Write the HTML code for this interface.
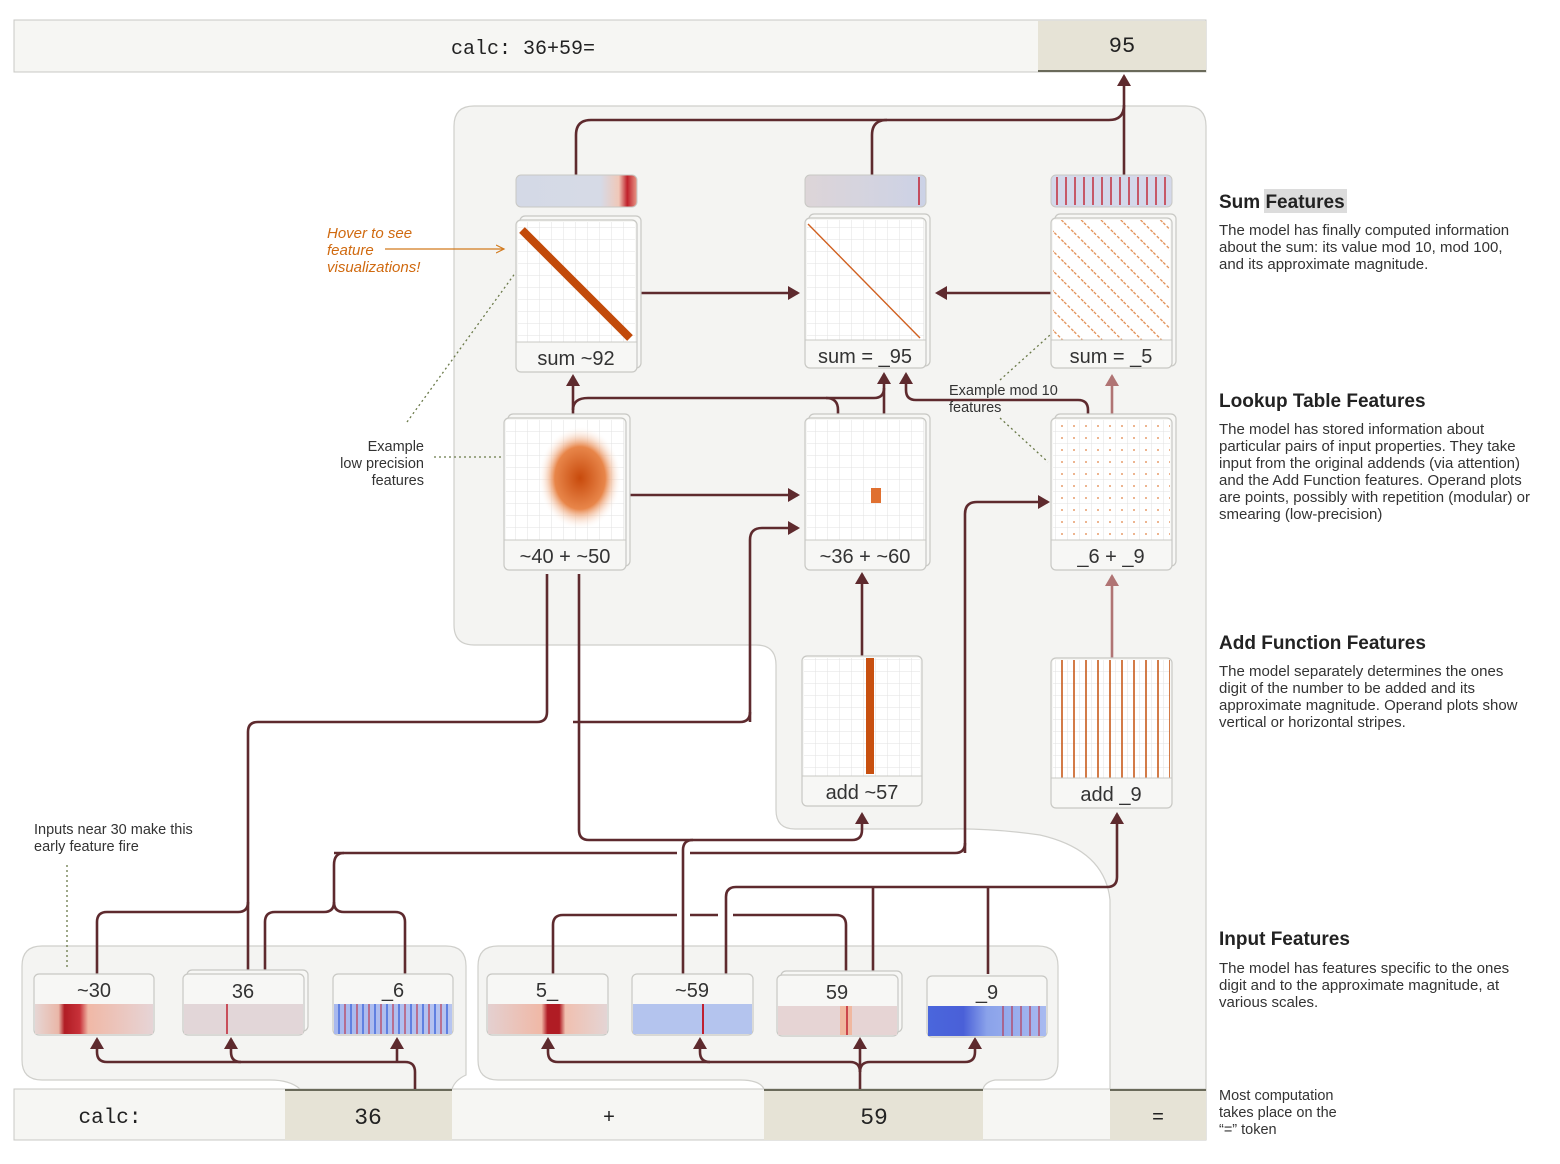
<!DOCTYPE html>
<html><head><meta charset="utf-8"><style>
body{margin:0;background:#fff;}
svg{display:block;font-family:"Liberation Sans",sans-serif;}
.m{font-family:"Liberation Mono",monospace;}
.c{fill:none;stroke:#5e2a2e;stroke-width:2.6;}
.p{fill:none;stroke:#b07474;stroke-width:2.6;}
.d{fill:none;stroke:#6b7a4a;stroke-width:1.3;stroke-dasharray:2 3;}
.card{fill:#f7f7f5;stroke:#c8c8c4;stroke-width:1.2;}
.lbl{font-size:20px;fill:#333;text-anchor:middle;}
.h{font-size:19px;font-weight:bold;fill:#222;}
.t{font-size:14.5px;fill:#333;}
.r{font-size:15px;fill:#333;}
</style></head><body>
<svg width="1560" height="1164" viewBox="0 0 1560 1164">
<defs>
<marker id="A" markerWidth="14" markerHeight="14" refX="10" refY="7" orient="auto" markerUnits="userSpaceOnUse"><path d="M0,0 L12,7 L0,14z" fill="#5e2a2e"/></marker>
<marker id="P" markerWidth="14" markerHeight="14" refX="10" refY="7" orient="auto" markerUnits="userSpaceOnUse"><path d="M0,0 L12,7 L0,14z" fill="#b07474"/></marker>
<marker id="O" markerWidth="10" markerHeight="10" refX="8" refY="5" orient="auto" markerUnits="userSpaceOnUse"><path d="M0,1 L8,5 L0,9" fill="none" stroke="#d27a1e" stroke-width="1.2"/></marker>
<pattern id="g" width="12" height="12" patternUnits="userSpaceOnUse"><rect width="12" height="12" fill="#fff"/><path d="M12,0V12M0,12H12" stroke="#e2e2e2" stroke-width="1"/></pattern>
<linearGradient id="b1" x1="0" x2="1"><stop offset="0" stop-color="#d4d9e6"/><stop offset=".7" stop-color="#d6dae6"/><stop offset=".85" stop-color="#f0c8b8"/><stop offset=".92" stop-color="#c0202a"/><stop offset="1" stop-color="#e89a8a"/></linearGradient>
<linearGradient id="b2" x1="0" x2="1"><stop offset="0" stop-color="#ddd5d8"/><stop offset="1" stop-color="#ccd2e6"/></linearGradient>
<linearGradient id="i1" x1="0" x2="1"><stop offset="0" stop-color="#e6d6d4"/><stop offset=".2" stop-color="#eab7a8"/><stop offset=".25" stop-color="#b01c24"/><stop offset=".38" stop-color="#c8323a"/><stop offset=".45" stop-color="#f0b8a6"/><stop offset="1" stop-color="#e6d4d6"/></linearGradient>
<linearGradient id="i4" x1="0" x2="1"><stop offset="0" stop-color="#e4d0d0"/><stop offset=".45" stop-color="#f0b8a6"/><stop offset=".5" stop-color="#b01c24"/><stop offset=".6" stop-color="#b01c24"/><stop offset=".65" stop-color="#f0c0b0"/><stop offset="1" stop-color="#e4d4d4"/></linearGradient>
<linearGradient id="i3" x1="0" x2="1"><stop offset="0" stop-color="#a8b8ee"/><stop offset="1" stop-color="#b6c4f0"/></linearGradient>
<linearGradient id="i7" x1="0" x2="1"><stop offset="0" stop-color="#4a66dc"/><stop offset=".3" stop-color="#4a60d8"/><stop offset=".5" stop-color="#8aa2ea"/><stop offset="1" stop-color="#a8baf0"/></linearGradient>
<radialGradient id="blob"><stop offset="0" stop-color="#c84a0c"/><stop offset=".6" stop-color="#e8864a"/><stop offset="1" stop-color="#fff" stop-opacity="0"/></radialGradient>
<pattern id="diag" width="14" height="14" patternUnits="userSpaceOnUse" patternTransform="rotate(45)"><rect width="14" height="14" fill="none"/><path d="M0,7H14" stroke="#e0884a" stroke-width="1.2" stroke-dasharray="3 2"/></pattern>
<pattern id="dots" width="12" height="12" patternUnits="userSpaceOnUse"><circle cx="6" cy="6" r="0.9" fill="#e08040"/></pattern>
<pattern id="vl" width="12" height="200" patternUnits="userSpaceOnUse"><path d="M6,0V200" stroke="#c85a1a" stroke-width="1.6"/></pattern>
<pattern id="st" width="9" height="30" patternUnits="userSpaceOnUse"><path d="M4,0V30" stroke="#c02030" stroke-width="1.4"/></pattern>
<pattern id="stb" width="12" height="30" patternUnits="userSpaceOnUse"><path d="M3,0V30" stroke="#6080e0" stroke-width="2"/><path d="M9,0V30" stroke="#c02030" stroke-width="1"/></pattern>
</defs>

<rect x="14" y="20" width="1192" height="52" fill="#f6f6f3" stroke="#c8c8c4"/>
<rect x="1038" y="21" width="168" height="50" fill="#e6e3d6"/>
<line x1="1038" y1="71" x2="1206" y2="71" stroke="#6a6a5a" stroke-width="2"/>
<text x="523" y="54" class="m" font-size="20" text-anchor="middle" fill="#222">calc: 36+59=</text>
<text x="1122" y="52" class="m" font-size="22" text-anchor="middle" fill="#222">95</text>

<path d="M474,106 H1186 Q1206,106 1206,126 V1090 H1110 V900 Q1105,850 1040,835 Q990,828 950,829 H795 Q776,829 776,810 V665 Q776,645 756,645 H474 Q454,645 454,625 V126 Q454,106 474,106Z" fill="#f4f4f2" stroke="#cfcfcb" stroke-width="1.2"/>

<path d="M42,946 H446 Q466,946 466,966 V1075 Q455,1080 452,1089 H300 Q290,1080 270,1080 H42 Q22,1080 22,1060 V966 Q22,946 42,946Z" fill="#f4f4f2" stroke="#cfcfcb" stroke-width="1.2"/>
<path d="M498,946 H1038 Q1058,946 1058,966 V1062 Q1058,1080 1040,1080 H995 Q985,1082 983,1089 H764 Q760,1080 740,1080 H498 Q478,1080 478,1060 V966 Q478,946 498,946Z" fill="#f4f4f2" stroke="#cfcfcb" stroke-width="1.2"/>

<rect x="14" y="1089" width="1192" height="51" fill="#f6f6f3" stroke="#c8c8c4"/>
<rect x="285" y="1090" width="167" height="50" fill="#e6e3d6"/>
<rect x="764" y="1090" width="219" height="50" fill="#e6e3d6"/>
<rect x="1110" y="1090" width="96" height="50" fill="#e6e3d6"/>
<path d="M285,1090H452M764,1090H983M1110,1090H1206" stroke="#6a6a5a" stroke-width="2"/>
<text x="110" y="1123" class="m" font-size="21" text-anchor="middle" fill="#222">calc:</text>
<text x="368" y="1124" class="m" font-size="23" text-anchor="middle" fill="#222">36</text>
<text x="609" y="1123" class="m" font-size="20" text-anchor="middle" fill="#222">+</text>
<text x="874" y="1124" class="m" font-size="23" text-anchor="middle" fill="#222">59</text>
<text x="1158" y="1123" class="m" font-size="20" text-anchor="middle" fill="#222">=</text>

<g class="c">
<path d="M576,175 V135 Q576,120 591,120 H1109 Q1124,120 1124,105"/>
<path d="M872,175 V135 Q872,120 887,120"/>
<path d="M1124,175 V76" marker-end="url(#A)"/>
<path d="M641,293 H798" marker-end="url(#A)"/>
<path d="M1051,293 H937" marker-end="url(#A)"/>
<path d="M573,418 V376" marker-end="url(#A)"/>
<path d="M573,410 Q573,398 588,398 H874 Q884,398 884,388"/>
<path d="M826,398 Q838,398 838,410 V418"/>
<path d="M884,418 V374" marker-end="url(#A)"/>
<path d="M1088,418 V410 Q1088,400 1078,400 H916 Q906,400 906,390 V374" marker-end="url(#A)"/>
<path d="M630,495 H798" marker-end="url(#A)"/>
<path d="M750,722 V540 Q750,528 762,528 H798" marker-end="url(#A)"/>
<path d="M965,853 V514 Q965,502 977,502 H1048" marker-end="url(#A)"/>
<path d="M862,656 V574" marker-end="url(#A)"/>
<path d="M547,574 V712 Q547,722 537,722 H258 Q248,722 248,732 V974"/>
<path d="M579,574 V830 Q579,840 589,840 H852 Q862,840 862,830 V814" marker-end="url(#A)"/>
<path d="M573,722 H740 Q750,722 750,712"/>
<path d="M248,902 Q248,912 238,912 H107 Q97,912 97,922 V974"/>
<path d="M334,853 H677 M690,853 H955 Q965,853 965,843"/>
<path d="M344,853 Q334,853 334,865 V902 Q334,912 324,912 H275 Q265,912 265,922 V974"/>
<path d="M334,902 Q334,912 344,912 H395 Q405,912 405,922 V974"/>
<path d="M683,974 V850 Q683,840 693,840"/>
<path d="M726,974 V897 Q726,887 736,887 H1107 Q1117,887 1117,877 V814" marker-end="url(#A)"/>
<path d="M873,974 V887 M988,974 V887"/>
<path d="M553,974 V925 Q553,915 563,915 H677 M690,915 H718 M733,915 H836 Q846,915 846,925 V974"/>
<path d="M415,1089 V1072 Q415,1062 405,1062 H107 Q97,1062 97,1052 V1039" marker-end="url(#A)"/>
<path d="M241,1062 Q231,1062 231,1052 V1039" marker-end="url(#A)"/>
<path d="M397,1062 V1039" marker-end="url(#A)"/>
<path d="M860,1089 V1039" marker-end="url(#A)"/>
<path d="M860,1072 Q860,1062 850,1062 H558 Q548,1062 548,1052 V1039" marker-end="url(#A)"/>
<path d="M710,1062 Q700,1062 700,1052 V1039" marker-end="url(#A)"/>
<path d="M860,1072 Q860,1062 870,1062 H965 Q975,1062 975,1052 V1039" marker-end="url(#A)"/>
</g>
<path class="p" d="M1112,418 V376" marker-end="url(#P)"/>
<path class="p" d="M1112,658 V576" marker-end="url(#P)"/>

<path class="d" d="M67,865 V970"/>
<path class="d" d="M434,457 H504"/>
<path class="d" d="M407,422 L516,272"/>
<path class="d" d="M1000,380 L1050,335 M1000,418 L1048,462"/>

<rect x="516" y="175" width="121" height="32" rx="5" fill="url(#b1)" stroke="#c8c8c4"/>
<rect x="805" y="175" width="121" height="32" rx="5" fill="url(#b2)" stroke="#c8c8c4"/>
<line x1="919" y1="177" x2="919" y2="205" stroke="#c02030" stroke-width="1.5"/>
<rect x="1051" y="175" width="121" height="32" rx="5" fill="#d4d8ea" stroke="#c8c8c4"/>
<rect x="1053" y="177" width="117" height="28" fill="url(#st)"/>

<g>
<rect x="520" y="216" width="121" height="152" rx="5" class="card"/>
<rect x="516" y="220" width="121" height="152" rx="5" class="card"/>
<rect x="518" y="222" width="117" height="120" fill="url(#g)"/>
<path d="M522,230 L630,338" stroke="#c24a0a" stroke-width="8"/>
<line x1="516" y1="342" x2="637" y2="342" stroke="#c8c8c4"/>
<text x="576" y="365" class="lbl">sum ~92</text>

<rect x="809" y="214" width="121" height="152" rx="5" class="card"/>
<rect x="805" y="218" width="121" height="150" rx="5" class="card"/>
<rect x="807" y="220" width="117" height="120" fill="url(#g)"/>
<path d="M808,224 L920,338" stroke="#d06020" stroke-width="1.4"/>
<line x1="805" y1="340" x2="926" y2="340" stroke="#c8c8c4"/>
<text x="865" y="363" class="lbl">sum = _95</text>

<rect x="1055" y="214" width="121" height="152" rx="5" class="card"/>
<rect x="1051" y="218" width="121" height="150" rx="5" class="card"/>
<rect x="1053" y="220" width="117" height="120" fill="#fff"/>
<rect x="1053" y="220" width="117" height="120" fill="url(#diag)"/>
<line x1="1051" y1="340" x2="1172" y2="340" stroke="#c8c8c4"/>
<text x="1111" y="363" class="lbl">sum = _5</text>

<rect x="508" y="414" width="122" height="152" rx="5" class="card"/>
<rect x="504" y="418" width="122" height="152" rx="5" class="card"/>
<rect x="506" y="420" width="118" height="120" fill="url(#g)"/>
<ellipse cx="580" cy="478" rx="42" ry="52" fill="url(#blob)"/>
<line x1="504" y1="540" x2="626" y2="540" stroke="#c8c8c4"/>
<text x="565" y="563" class="lbl">~40 + ~50</text>

<rect x="809" y="414" width="121" height="152" rx="5" class="card"/>
<rect x="805" y="418" width="121" height="152" rx="5" class="card"/>
<rect x="807" y="420" width="117" height="120" fill="url(#g)"/>
<rect x="871" y="488" width="10" height="15" fill="#e07030"/>
<line x1="805" y1="540" x2="926" y2="540" stroke="#c8c8c4"/>
<text x="865" y="563" class="lbl">~36 + ~60</text>

<rect x="1055" y="414" width="121" height="152" rx="5" class="card"/>
<rect x="1051" y="418" width="121" height="152" rx="5" class="card"/>
<rect x="1053" y="420" width="117" height="120" fill="url(#g)"/>
<rect x="1053" y="420" width="117" height="120" fill="url(#dots)"/>
<line x1="1051" y1="540" x2="1172" y2="540" stroke="#c8c8c4"/>
<text x="1111" y="563" class="lbl">_6 + _9</text>

<rect x="802" y="656" width="120" height="150" rx="5" class="card"/>
<rect x="804" y="658" width="116" height="118" fill="url(#g)"/>
<rect x="866" y="658" width="8" height="116" fill="#c85010"/>
<line x1="802" y1="776" x2="922" y2="776" stroke="#c8c8c4"/>
<text x="862" y="799" class="lbl">add ~57</text>

<rect x="1051" y="658" width="121" height="150" rx="5" class="card"/>
<rect x="1053" y="660" width="117" height="118" fill="url(#g)"/>
<rect x="1053" y="660" width="117" height="118" fill="url(#vl)"/>
<line x1="1051" y1="778" x2="1172" y2="778" stroke="#c8c8c4"/>
<text x="1111" y="801" class="lbl">add _9</text>
</g>

<g>
<rect x="34" y="974" width="120" height="61" rx="5" class="card"/><rect x="35" y="1004" width="118" height="30" fill="url(#i1)"/><text x="94" y="997" class="lbl">~30</text>
<rect x="187" y="970" width="121" height="61" rx="5" class="card"/><rect x="183" y="974" width="121" height="61" rx="5" class="card"/><rect x="184" y="1004" width="119" height="30" fill="#e2d6d8"/><line x1="227" y1="1004" x2="227" y2="1034" stroke="#c02030" stroke-width="1.5"/><text x="243" y="998" class="lbl">36</text>
<rect x="333" y="974" width="120" height="61" rx="5" class="card"/><rect x="334" y="1004" width="118" height="30" fill="url(#i3)"/><rect x="334" y="1004" width="118" height="30" fill="url(#stb)"/><text x="393" y="997" class="lbl">_6</text>
<rect x="487" y="974" width="121" height="61" rx="5" class="card"/><rect x="488" y="1004" width="119" height="30" fill="url(#i4)"/><text x="547" y="997" class="lbl">5_</text>
<rect x="632" y="974" width="121" height="61" rx="5" class="card"/><rect x="633" y="1004" width="119" height="30" fill="#b4c4ee"/><line x1="703" y1="1004" x2="703" y2="1034" stroke="#c02030" stroke-width="2"/><text x="692" y="997" class="lbl">~59</text>
<rect x="781" y="971" width="121" height="61" rx="5" class="card"/><rect x="777" y="975" width="121" height="61" rx="5" class="card"/><rect x="778" y="1006" width="119" height="29" fill="#e6d4d4"/><rect x="840" y="1006" width="12" height="29" fill="#f0b8a0"/><line x1="847" y1="1006" x2="847" y2="1035" stroke="#c02030" stroke-width="1.5"/><text x="837" y="999" class="lbl">59</text>
<rect x="927" y="976" width="120" height="61" rx="5" class="card"/><rect x="928" y="1006" width="118" height="30" fill="url(#i7)"/><rect x="1000" y="1006" width="46" height="30" fill="url(#st)" opacity=".7"/><text x="987" y="999" class="lbl">_9</text>
</g>

<g font-style="italic" font-size="15" fill="#d06a10">
<text x="327" y="238">Hover to see</text><text x="327" y="255">feature</text><text x="327" y="272">visualizations!</text>
</g>
<path d="M385,249 H504" stroke="#d27a1e" stroke-width="1.2" marker-end="url(#O)"/>
<g class="t" text-anchor="end"><text x="424" y="451">Example</text><text x="424" y="468">low precision</text><text x="424" y="485">features</text></g>
<g class="t"><text x="949" y="395">Example mod 10</text><text x="949" y="412">features</text>
<text x="34" y="834">Inputs near 30 make this</text><text x="34" y="851">early feature fire</text>
<text x="1219" y="1100">Most computation</text><text x="1219" y="1117">takes place on the</text><text x="1219" y="1134">“=” token</text></g>

<rect x="1264" y="189" width="83" height="24" fill="#dcdcdc"/>
<text x="1219" y="208" class="h">Sum Features</text>
<g class="r"><text x="1219" y="235">The model has finally computed information</text><text x="1219" y="252">about the sum: its value mod 10, mod 100,</text><text x="1219" y="269">and its approximate magnitude.</text></g>
<text x="1219" y="407" class="h">Lookup Table Features</text>
<g class="r"><text x="1219" y="434">The model has stored information about</text><text x="1219" y="451">particular pairs of input properties. They take</text><text x="1219" y="468">input from the original addends (via attention)</text><text x="1219" y="485">and the Add Function features. Operand plots</text><text x="1219" y="502">are points, possibly with repetition (modular) or</text><text x="1219" y="519">smearing (low-precision)</text></g>
<text x="1219" y="649" class="h">Add Function Features</text>
<g class="r"><text x="1219" y="676">The model separately determines the ones</text><text x="1219" y="693">digit of the number to be added and its</text><text x="1219" y="710">approximate magnitude. Operand plots show</text><text x="1219" y="727">vertical or horizontal stripes.</text></g>
<text x="1219" y="945" class="h">Input Features</text>
<g class="r"><text x="1219" y="973">The model has features specific to the ones</text><text x="1219" y="990">digit and to the approximate magnitude, at</text><text x="1219" y="1007">various scales.</text></g>
</svg>
</body></html>
